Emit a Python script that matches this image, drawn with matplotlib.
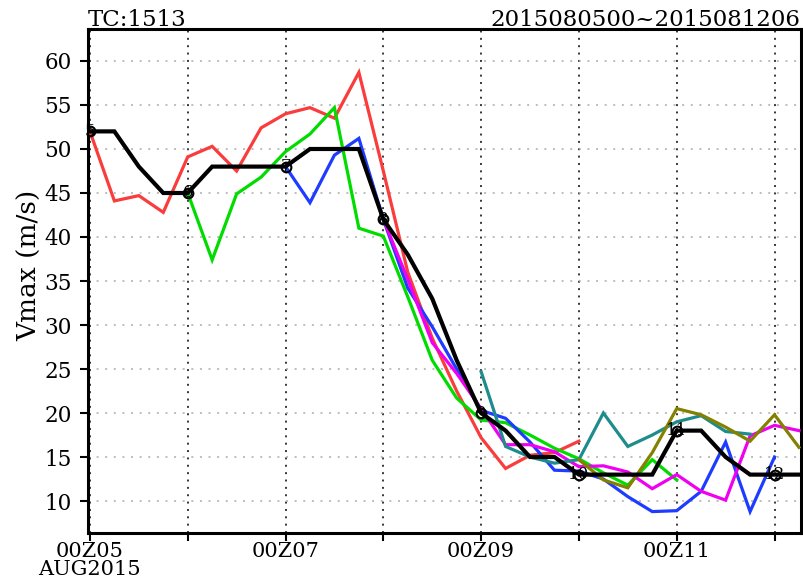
import numpy as np
import matplotlib
matplotlib.use("Agg")
import matplotlib.pyplot as plt

# ---- data: maximum wind (m/s) every 6 h from 2015080500 ----
step_hours = 6
best_track = [52, 52, 48, 45, 45, 48, 48, 48, 48, 50, 50, 50, 42, 38, 33, 26,
              20, 18, 15, 15, 13, 13, 13, 13, 18, 18, 15, 13, 13, 13]

# forecasts: (first 6-hourly index, values)
fc_red_start = 0
fc_red = [52, 44.1, 44.7, 42.8, 49.1, 50.3, 47.5, 52.4, 54.0, 54.7, 53.5, 58.7,
          47.5, 36.0, 28.5, 22.5, 17.2, 13.7, 15.2, 15.5, 16.8]
fc_green_start = 4
fc_green = [45, 37.4, 44.9, 46.8, 49.7, 51.7, 54.7, 41.0, 40.1, 33.2, 26.0, 21.7,
            19.2, 18.9, 17.5, 16.0, 14.8, 13.2, 11.8, 14.7, 12.4]
fc_blue_start = 8
fc_blue = [48, 43.9, 49.3, 51.2, 42, 34.2, 29.8, 25.0, 20.3, 19.4, 16.7, 13.5,
           13.4, 12.5, 10.5, 8.8, 8.9, 11.1, 16.7, 8.8, 15.0]
fc_magenta_start = 12
fc_magenta = [42, 35.2, 28, 24.5, 20.5, 16.4, 16.4, 15.6, 13.9, 14.0, 13.3, 11.4,
              13.0, 11.1, 10.1, 17.4, 18.6, 18.0]
fc_teal_start = 16
fc_teal = [24.7, 16.2, 15.0, 14.3, 14.7, 20.0, 16.2, 17.5, 19.0, 19.7, 17.9, 17.6]
fc_olive_start = 20
fc_olive = [14.7, 12.4, 11.5, 15.5, 20.5, 19.8, 18.4, 16.8, 19.8, 16.1]

day_labels = ["5", "6", "7", "8", "9", "10", "11", "12"]
xtick_labels = ["00Z05\nAUG2015", "", "00Z07", "", "00Z09", "", "00Z11", ""]
yticks = [10, 15, 20, 25, 30, 35, 40, 45, 50, 55, 60]

forecasts = [
    (fc_red_start, fc_red, "#fa3c3c"),
    (fc_green_start, fc_green, "#00dc00"),
    (fc_blue_start, fc_blue, "#1e3cff"),
    (fc_magenta_start, fc_magenta, "#f000f0"),
    (fc_teal_start, fc_teal, "#1e8c8c"),
    (fc_olive_start, fc_olive, "#828200"),
]

plt.rcParams["font.family"] = ["DejaVu Serif"]
plt.rcParams["lines.scale_dashes"] = False

W, H = 804, 580
fig = plt.figure(figsize=(W / 100, H / 100), dpi=100)
l, r, t, b = 88.3, 801, 29.3, 532.7
ax = fig.add_axes([l / W, 1 - b / H, (r - l) / W, (b - t) / H])

ax.set_xlim(-0.4, 174.5)
ax.set_ylim(6.4, 63.6)

# grid: dotted black verticals at each day, grey dotted horizontals
for d in range(0, 8):
    ax.axvline(d * 24, color="black", lw=1.1, ls=(0, (1.4, 3.9)), zorder=1)
for yv in yticks:
    ax.axhline(yv, color="#aaaaaa", lw=1.1, ls=(0, (1.4, 4.8)), zorder=1)

for start, vals, col in forecasts:
    x = (start + np.arange(len(vals))) * step_hours
    ax.plot(x, vals, color=col, lw=2.3, zorder=3, solid_joinstyle="miter")

xb = np.arange(len(best_track)) * step_hours
ax.plot(xb, best_track, color="black", lw=3.0, zorder=4, solid_joinstyle="miter")

# day-of-month marks on the best track at 00Z
for k, lab in enumerate(day_labels):
    i = 4 * k
    ax.plot(xb[i], best_track[i], "o", ms=7, mfc="none", mec="black",
            mew=1.5, zorder=5)
    ax.text(xb[i], best_track[i], lab, ha="center", va="center",
            fontsize=12, color="black", zorder=6)

ax.set_xticks([d * 24 for d in range(8)])
ax.set_xticklabels(xtick_labels, fontsize=15, linespacing=0.88)
ax.set_yticks(yticks)
ax.set_yticklabels([str(v) for v in yticks], fontsize=15.5)
ax.tick_params(axis="both", direction="out", length=6, width=1.5, colors="black")
ax.tick_params(axis="y", pad=6)
ax.tick_params(axis="x", pad=1)

for s in ax.spines.values():
    s.set_linewidth(2.2)
    s.set_color("black")

fig.text(88 / W, 1 - 26 / H, "TC:1513", ha="left", va="baseline", fontsize=16.5)
fig.text(800 / W, 1 - 26 / H, "2015080500~2015081206", ha="right",
         va="baseline", fontsize=16.5)
fig.text(30 / W, 1 - 265 / H, "Vmax (m/s)", rotation=90, ha="center",
         va="center", fontsize=19)

fig.savefig("out.png", dpi=100)
